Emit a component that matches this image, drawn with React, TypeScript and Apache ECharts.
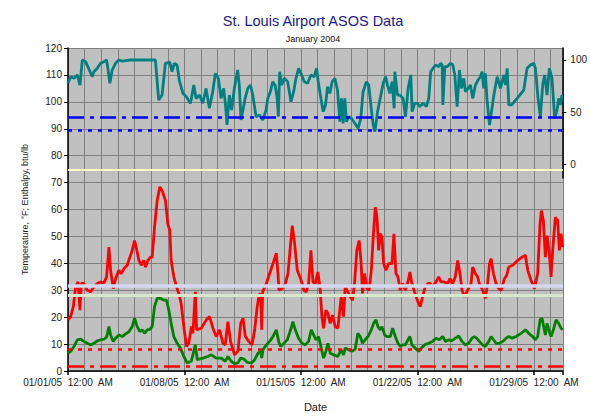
import React, { useEffect, useRef } from "react";
import * as echarts from "echarts";

// Days since 01/01 00:00
const tempDays = [0,0.16,0.32,0.46,0.6,0.72,0.8,0.96,1.16,1.36,1.56,1.76,1.96,2.16,2.32,2.46,2.56,2.72,2.86,3.06,3.2,3.36,3.56,3.72,3.86,4.0,4.12,4.26,4.4,4.56,4.66,4.8,4.96,5.06,5.2,5.36,5.52,5.66,5.86,6.0,6.12,6.2,6.36,6.52,6.66,6.8,6.96,7.12,7.26,7.42,
  7.51,7.65,7.73,8.01,8.31,8.51,8.71,8.91,9.11,9.31,9.45,9.61,9.77,10.01,10.21,10.38,10.52,10.66,10.86,11.06,11.22,11.36,11.48,11.58,11.64,11.7,11.92,12.12,12.32,12.52,12.62,12.68,12.86,13.06,13.22,13.38,13.48,13.62,13.78,13.98,14.18,14.32,14.46,14.6,14.72,
  14.86,15.02,15.16,15.26,15.36,15.5,15.62,15.76,15.9,16.06,16.22,16.42,16.56,16.66,16.82,16.96,17.1,17.22,17.36,17.5,17.62,17.7,17.82,17.97,18.1,18.23,18.37,18.47,18.57,18.67,18.77,18.87,18.97,19.11,19.27,19.47,19.59,19.71,19.83,19.97,20.11,20.27,20.43,20.55,20.67,20.83,21.03,21.17,21.31,21.47,21.63,21.77,21.91,
  22.12,22.28,22.42,22.62,22.82,22.96,23.12,23.28,23.42,23.56,23.68,23.82,24.02,24.22,24.32,24.48,24.62,24.72,24.92,25.08,25.22,25.33,25.43,25.57,25.73,25.89,26.03,26.23,26.37,26.49,26.73,27.03,27.29,27.49,27.63,27.83,28.03,28.23,28.37,28.45,28.57,28.69,28.79,28.93,29.03,29.13,29.29,29.43,29.53,29.63,29.73];
const tempF = [19,20.2,23.9,31.3,33.1,22.6,32.5,32.5,30,29.4,31.3,32.5,33.1,32.7,35,46,37.4,30.6,34.3,37.4,36.2,38,39.3,42.3,44.8,48.5,45.4,41.1,39.3,41.1,38.6,41.1,42.3,42.3,53.4,63.3,68.4,67,63.3,54.6,52.2,41.1,35,31.3,28.8,25.1,16.5,9.1,10.3,16.5,
  14,29.4,15.3,15.9,19,20.2,15.9,12.8,15.3,10.3,9.7,18.3,11,6,7.3,17.7,19.6,12.8,11,9.7,15.3,23.3,28.2,28.8,15.3,29.4,32.5,36.2,39.9,43.8,36.2,30,30.6,32.5,36.2,47.3,54,47.3,37.4,34.3,30,29.4,32.5,44.8,33.1,
  32.5,36.8,30,20.2,15.9,22.6,21.4,17.7,20.8,16.5,15.9,27.6,20.2,31.3,29.4,27.6,26.3,32.5,44.8,48.5,39.9,28.8,36.2,30.6,30,37.4,52.2,60.8,57.1,44.8,51,49.7,39.9,37.4,39.9,39.9,51,36.2,35,30,32.5,30,33.1,36.8,32.5,29.4,25.7,23.9,27.6,31.3,32.5,32.5,31.3,
  33.1,35,33.1,33.1,32.5,34.3,32.5,35,41.1,36.2,30,27.6,30,32.5,38.6,36.2,35,32.5,30,27,32.5,39.9,41.7,36.2,32.5,30.6,30,34.3,35.6,38.6,39.3,41.1,42.3,43,37.4,33.7,30.6,36.2,54.6,59.6,55.9,42.3,50.3,43.6,35,44.8,57.1,55.9,44.8,51,46];

const enthDays = [0,0.16,0.36,0.56,0.76,0.96,1.16,1.36,1.56,1.76,1.96,2.16,2.32,2.46,2.56,2.72,2.86,3.06,3.26,3.46,3.66,3.86,4.0,4.16,4.32,4.46,4.6,4.76,4.92,5.06,5.2,5.36,5.56,5.76,5.92,6.06,6.2,6.36,6.56,6.76,6.96,7.16,
  7.41,7.65,7.77,8.11,8.41,8.61,8.91,9.21,9.45,9.61,9.81,10.01,10.21,10.38,10.58,10.78,11.02,11.22,11.42,11.58,11.64,11.72,11.92,12.12,12.32,12.52,12.66,12.78,12.98,13.18,13.38,13.52,13.66,13.86,14.06,14.26,14.46,14.62,
  14.9,15.06,15.22,15.36,15.5,15.62,15.76,15.96,16.22,16.42,16.56,16.66,16.86,17.06,17.26,17.42,17.56,17.7,17.86,18.03,18.23,18.37,18.51,18.63,18.77,18.87,19.03,19.17,19.37,19.51,19.67,19.83,19.97,20.11,20.27,20.43,20.55,20.67,20.87,21.07,21.23,21.43,21.67,21.91,
  22.12,22.32,22.52,22.68,22.88,23.08,23.28,23.48,23.68,23.88,24.08,24.28,24.42,24.56,24.72,24.92,25.08,25.29,25.43,25.57,25.73,25.93,26.13,26.33,26.49,26.69,26.93,27.23,27.49,27.69,27.93,28.09,28.23,28.37,28.49,28.57,28.69,28.79,28.93,29.03,29.17,29.33,29.49,29.63,29.73];
const enthalpy = [6.6,7.3,9.1,11.6,11.8,11,10.3,9.7,10.3,11.2,11.6,11.8,12.6,16.5,13.4,11,12.2,13.4,12.8,13.8,14.6,16.5,19.6,16.5,14.6,15.3,14,15.3,15.5,16.5,23.9,27,27,26.3,26.3,22.6,17.7,12.8,10.3,8.5,5.4,3,
  3.6,9.7,4.2,4.8,5.4,6,4.8,4.8,3.6,5.4,3.6,2.7,3,4.8,4.4,3.2,3,4.2,6.6,7.3,4.8,7.9,9.7,11,12.8,15.3,11,9.1,10.3,11.6,15.3,18.3,15.3,12.2,10.3,9.7,11,15.3,
  11.6,12.8,8.5,4.8,7.3,10.3,6.6,6,5.4,7.9,6,8.5,7.9,7.3,8.1,14,12.8,10.3,11.6,12.8,15.3,17.7,19,16.5,15.3,16.5,13.4,12.8,12.8,15.9,12.8,10.3,9.1,9.7,9.7,11.6,12.8,9.7,8.5,7.3,8.5,9.7,10.3,11,
  12.2,11.6,12.8,11,11.6,11.3,12.2,13,11,9.7,10.3,12.2,12.8,12.2,11,9.7,9.1,11,12.8,11.6,10.3,10.3,11,12.2,12.8,12.2,12.8,14,15.3,14,12.8,11.6,12.8,19,19.6,17.1,13.4,17.7,14.6,12.8,15.3,19,17.7,15.9,15.3];

const rhDays = [0,0.16,0.36,0.56,0.72,0.86,1.06,1.46,1.56,1.76,1.96,2.16,2.32,2.4,2.52,2.66,2.86,3.06,3.26,3.76,5.26,5.46,5.66,5.86,6.12,6.26,6.4,6.56,6.72,6.92,7.12,7.36,
  7.41,7.57,7.71,7.91,8.11,8.31,8.51,8.71,8.87,9.05,9.21,9.37,9.47,9.57,9.71,9.85,10.01,10.21,10.31,10.41,10.51,10.66,10.82,10.98,11.12,11.32,11.52,11.72,11.92,12.02,12.18,12.32,12.46,12.58,12.66,12.74,12.86,13.02,13.22,13.42,13.58,13.72,13.88,14.02,14.22,14.42,14.62,
  14.82,14.96,15.06,15.22,15.36,15.5,15.62,15.76,15.9,16.06,16.22,16.36,16.46,16.56,16.66,16.76,16.9,17.06,17.26,17.46,17.62,17.76,17.96,18.1,18.27,18.37,18.47,18.63,18.77,18.97,19.11,19.23,19.37,19.51,19.63,19.67,19.83,19.97,20.17,20.31,20.47,20.63,20.71,20.87,21.03,21.17,21.37,21.57,21.71,21.83,21.97,
  22.12,22.32,22.42,22.52,22.56,22.68,22.82,23.02,23.16,23.28,23.42,23.56,23.68,23.82,23.92,24.08,24.22,24.36,24.52,24.68,24.82,24.92,25.02,25.12,25.22,25.37,25.49,25.63,25.83,26.03,26.23,26.33,26.43,26.53,26.69,27.03,27.43,27.63,27.83,28.03,28.13,28.29,28.43,28.57,28.69,28.83,28.97,29.13,29.29,29.43,29.53,29.63,29.73];
const rh = [77.7,84,82.4,85.7,76,100,98.4,84,88.8,92,96.8,98.4,100,92,77.7,90.4,96.8,100,99,100,100,61.6,66.4,96.8,98,88.8,96.8,95.2,79.2,68,64.8,58.5,
  61.6,76,63.2,66.4,58.5,72.8,53.7,69.6,87.2,82.4,63.2,72.8,58.5,37.7,66.4,52,72.8,90.4,76,42.5,50.5,63.2,72.8,76,66.4,45.6,47.2,42.5,52,63.2,69.6,79.2,76,64.8,45.6,88.8,76,82.4,79.2,60,69.6,82.4,92,87.2,79.2,77.7,85.7,
  84,92,79.2,63.2,50.5,56.9,74.4,68,79.2,82.4,71.2,40.9,63.2,39.3,63.2,40.9,45.6,44.1,39.3,34.5,44.1,69.6,79.2,76,50.5,37.7,31.3,50.5,61.6,77.7,84,76,68,79.2,53.7,88.8,66.4,66.4,63.2,45.6,72.8,85.7,50.5,58.5,58.5,55.3,58.5,55.3,63.2,88.8,92,
  95.2,93.6,96.8,95.2,56.9,93.6,93.6,96.8,95.2,85.7,55.3,90.4,72.8,82.4,69.6,72.8,76,63.2,76,80.8,84,88.8,72.8,87.2,61.6,37.7,50.5,66.4,84,72.8,85.7,76,92,56.9,56.9,63.2,71.2,92,95.2,96.8,92,63.2,45.6,76,85.7,66.4,92,82.4,44.1,52,63.2,56.9,66.4];

// Reference levels
const yellowLevel = 74.6;
const lavenderLevel = 31.6;
const paleGreenLevel = 28.3;
const redDottedLevel = 7.9;
const redDashDotLevel = 1.9;
const blueDashDotLevel = 45.6; // right axis
const blueDottedLevel = 32.2; // right axis

const xLabelDays = [0, 7, 14, 21, 28];
const rhLabels = [0, 50, 100];

const FONT = '"Liberation Sans", Arial, sans-serif';
const X_MAX = 29.75;
const NB = "\u00a0";

const zip = (xs: number[], ys: number[]) => xs.map((x, i) => [x, ys[i]]);

export default function App() {
  const ref = useRef<HTMLDivElement>(null);
  useEffect(() => {
    const chart = echarts.init(ref.current!, null, { renderer: "svg" });
    const dateLabel = (d: number) =>
      `01/${String(1 + d).padStart(2, "0")}/05${NB} 12:00${NB} AM`;
    chart.setOption({
      animation: false,
      title: [
        {
          text: "St. Louis Airport ASOS Data",
          left: 308,
          top: 8,
          textAlign: "center",
          textStyle: { fontFamily: FONT, fontSize: 14.5, fontWeight: "normal", color: "#1A1A8C" },
        },
        {
          text: "January 2004",
          left: 308,
          top: 29,
          textAlign: "center",
          textStyle: { fontFamily: FONT, fontSize: 9, fontWeight: "normal", color: "#111" },
        },
      ],
      grid: [
        { left: 68, right: 27, top: 48, bottom: 44, show: true, backgroundColor: "#C0C0C0", borderWidth: 0 },
        { left: 68, right: 27, top: 48, height: 130 },
      ],
      xAxis: [
        {
          gridIndex: 0,
          type: "value",
          min: 0,
          max: X_MAX,
          interval: 1,
          name: "Date",
          nameLocation: "middle",
          nameGap: 30,
          nameTextStyle: { fontFamily: FONT, fontSize: 11, color: "#222" },
          axisLine: { show: true, onZero: false, lineStyle: { color: "#000", width: 1.5 } },
          axisTick: { show: false },
          axisLabel: {
            margin: 6,
            fontFamily: FONT,
            fontSize: 10,
            color: "#222",
            formatter: (v: number) => {
              const r = Math.round(v);
              return Math.abs(v - r) < 1e-6 && xLabelDays.includes(r) ? dateLabel(r) : "";
            },
          },
          splitLine: { show: true, lineStyle: { color: "#808080", width: 1 } },
        },
        {
          gridIndex: 0,
          type: "value",
          min: 0,
          max: X_MAX,
          interval: 7,
          position: "bottom",
          axisLine: { show: false, onZero: false },
          axisTick: { show: true, length: 4, lineStyle: { color: "#000", width: 1.5 } },
          axisLabel: { show: false },
          splitLine: { show: false },
        },
        {
          gridIndex: 1,
          type: "value",
          min: 0,
          max: X_MAX,
          show: false,
          axisLine: { show: false, onZero: false },
          axisTick: { show: false },
          axisLabel: { show: false },
          splitLine: { show: false },
        },
      ],
      yAxis: [
        {
          gridIndex: 0,
          type: "value",
          min: 0,
          max: 120,
          interval: 10,
          name: "Temperature, °F; Enthalpy, btu/lb",
          nameLocation: "middle",
          nameGap: 39,
          nameTextStyle: { fontFamily: FONT, fontSize: 9, color: "#222" },
          axisLine: { show: true, onZero: false, lineStyle: { color: "#000", width: 1.5 } },
          axisTick: { show: true, length: 4, lineStyle: { color: "#000" } },
          axisLabel: { margin: 6, fontFamily: FONT, fontSize: 10, color: "#222" },
          splitLine: { show: true, lineStyle: { color: "#808080", width: 1 } },
        },
        {
          gridIndex: 1,
          type: "value",
          position: "right",
          min: -13.1,
          max: 111.5,
          minInterval: 50,
          maxInterval: 50,
          splitNumber: 2,
          axisLine: { show: true, onZero: false, lineStyle: { color: "#000", width: 1.5 } },
          axisTick: { show: true, length: 4, lineStyle: { color: "#000" } },
          axisLabel: {
            margin: 8,
            fontFamily: FONT,
            fontSize: 10,
            color: "#222",
            showMinLabel: false,
            showMaxLabel: false,
            formatter: (v: number) => (rhLabels.includes(Math.round(v)) && Math.abs(v - Math.round(v)) < 1e-6 ? String(Math.round(v)) : ""),
          },
          splitLine: { show: false },
        },
      ],
      series: [
        {
          type: "line",
          name: "Temperature",
          xAxisIndex: 0,
          yAxisIndex: 0,
          data: zip(tempDays, tempF),
          showSymbol: false,
          lineStyle: { color: "#FF0000", width: 2.8 },
          markLine: {
            silent: true,
            symbol: ["none", "none"],
            label: { show: false },
            data: [
              { yAxis: yellowLevel, lineStyle: { color: "#FFFFC8", width: 2, type: "solid" } },
              { yAxis: lavenderLevel, lineStyle: { color: "#D4D8F4", width: 3.5, type: "solid" } },
              { yAxis: paleGreenLevel, lineStyle: { color: "#D8E6CC", width: 3, type: "solid" } },
              { yAxis: redDottedLevel, lineStyle: { color: "#FF0000", width: 2.5, type: [4, 6] } },
              { yAxis: redDashDotLevel, lineStyle: { color: "#FF0000", width: 2.5, type: [16, 6, 4, 6] } },
            ],
          },
        },
        {
          type: "line",
          name: "Enthalpy",
          xAxisIndex: 0,
          yAxisIndex: 0,
          data: zip(enthDays, enthalpy),
          showSymbol: false,
          lineStyle: { color: "#008000", width: 2.8 },
        },
        {
          type: "line",
          name: "RH",
          xAxisIndex: 2,
          yAxisIndex: 1,
          data: zip(rhDays, rh),
          showSymbol: false,
          lineStyle: { color: "#008080", width: 2.8 },
          markLine: {
            silent: true,
            symbol: ["none", "none"],
            label: { show: false },
            data: [
              { yAxis: blueDashDotLevel, lineStyle: { color: "#0000FF", width: 2.5, type: [16, 6, 4, 6] } },
              { yAxis: blueDottedLevel, lineStyle: { color: "#0000FF", width: 2.5, type: [4, 6] } },
            ],
          },
        },
      ],
    });
    return () => chart.dispose();
  }, []);
  return (
    <div
      ref={ref}
      style={{ position: "absolute", left: 0, top: 0, width: 590, height: 417, background: "#fff" }}
    />
  );
}
